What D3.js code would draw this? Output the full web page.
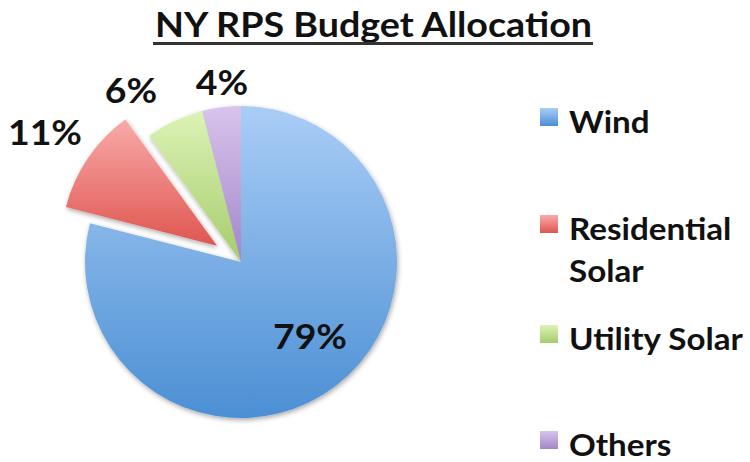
<!DOCTYPE html>
<html>
<head>
<meta charset="utf-8">
<script src="https://cdn.jsdelivr.net/npm/d3@7"></script>
<style>
  body { margin: 0; background: #fff; }
  svg text { font-family: Lato, "Open Sans", sans-serif; font-weight: bold; fill: #111; }
</style>
</head>
<body>
<div id="chart"></div>
<script>
// data
const categories = ["Wind", "Residential Solar", "Utility Solar", "Others"];
const values = [79, 11, 6, 4];
const pctLabels = ["79%", "11%", "6%", "4%"];
const legendLines = [["Wind"], ["Residential", "Solar"], ["Utility Solar"], ["Others"]];
const colorsTop = ["#aacdf6", "#f9aaa9", "#dcf3b6", "#d8c4ec"];
const colorsBottom = ["#4b8fd4", "#df5650", "#a6cc6c", "#a386c8"];

const width = 750, height = 462;
const cx = 241, cy = 262, radius = 156;
const explode = 29; // residential slice pulled out
const stretch = 1.1; // original font is a bit wider than Lato

const svg = d3.select("#chart").append("svg")
  .attr("width", width)
  .attr("height", height);

const defs = svg.append("defs");

// drop shadow for the slices
const shadow = defs.append("filter").attr("id", "shadow")
  .attr("x", "-20%").attr("y", "-20%").attr("width", "140%").attr("height", "140%");
shadow.append("feDropShadow")
  .attr("dx", 1).attr("dy", 2).attr("stdDeviation", 2.5)
  .attr("flood-color", "#000").attr("flood-opacity", 0.35);

// vertical gradients, one per category
categories.forEach((c, i) => {
  const g = defs.append("linearGradient").attr("id", "grad" + i)
    .attr("x1", 0).attr("y1", 0).attr("x2", 0).attr("y2", 1);
  g.append("stop").attr("offset", "0%").attr("stop-color", colorsTop[i]);
  g.append("stop").attr("offset", "100%").attr("stop-color", colorsBottom[i]);
});

// title
svg.append("text")
  .attr("x", 155)
  .attr("y", 37)
  .attr("textLength", 437)
  .attr("lengthAdjust", "spacingAndGlyphs")
  .style("font-size", "35px")
  .text("NY RPS Budget Allocation");
svg.append("rect")
  .attr("x", 153)
  .attr("y", 42)
  .attr("width", 440)
  .attr("height", 3)
  .attr("fill", "#333");

// pie
const pie = d3.pie().sort(null).value(d => d)(values);
const arc = d3.arc().innerRadius(0).outerRadius(radius);

const slices = svg.append("g")
  .attr("transform", `translate(${cx},${cy})`)
  .attr("filter", "url(#shadow)");

slices.selectAll("path")
  .data(pie)
  .join("path")
  .attr("d", arc)
  .attr("fill", (d, i) => `url(#grad${i})`)
  .attr("transform", (d, i) => {
    if (i !== 1) return null;
    const a = (d.startAngle + d.endAngle) / 2;
    return `translate(${Math.sin(a) * explode},${-Math.cos(a) * explode})`;
  });

// percent labels
const labelPos = [
  [310, 349],  // inside wind
  [45, 145],
  [131, 103],
  [222, 95]
];
svg.append("g").selectAll("text")
  .data(pie)
  .join("text")
  .attr("transform", (d, i) => `translate(${labelPos[i][0]},${labelPos[i][1]}) scale(${stretch},1)`)
  .attr("text-anchor", "middle")
  .style("font-size", "34px")
  .text((d, i) => pctLabels[i]);

// legend
const legendY = [108, 215, 325, 431];
const legend = svg.append("g");
categories.forEach((c, i) => {
  legend.append("rect")
    .attr("x", 540)
    .attr("y", legendY[i])
    .attr("width", 18)
    .attr("height", 18)
    .attr("fill", `url(#grad${i})`);
  legendLines[i].forEach((line, j) => {
    legend.append("text")
      .attr("transform", `translate(569,${legendY[i] + 25 + j * 42}) scale(1.07,1)`)
      .style("font-size", "31px")
      .text(line);
  });
});
</script>
</body>
</html>
